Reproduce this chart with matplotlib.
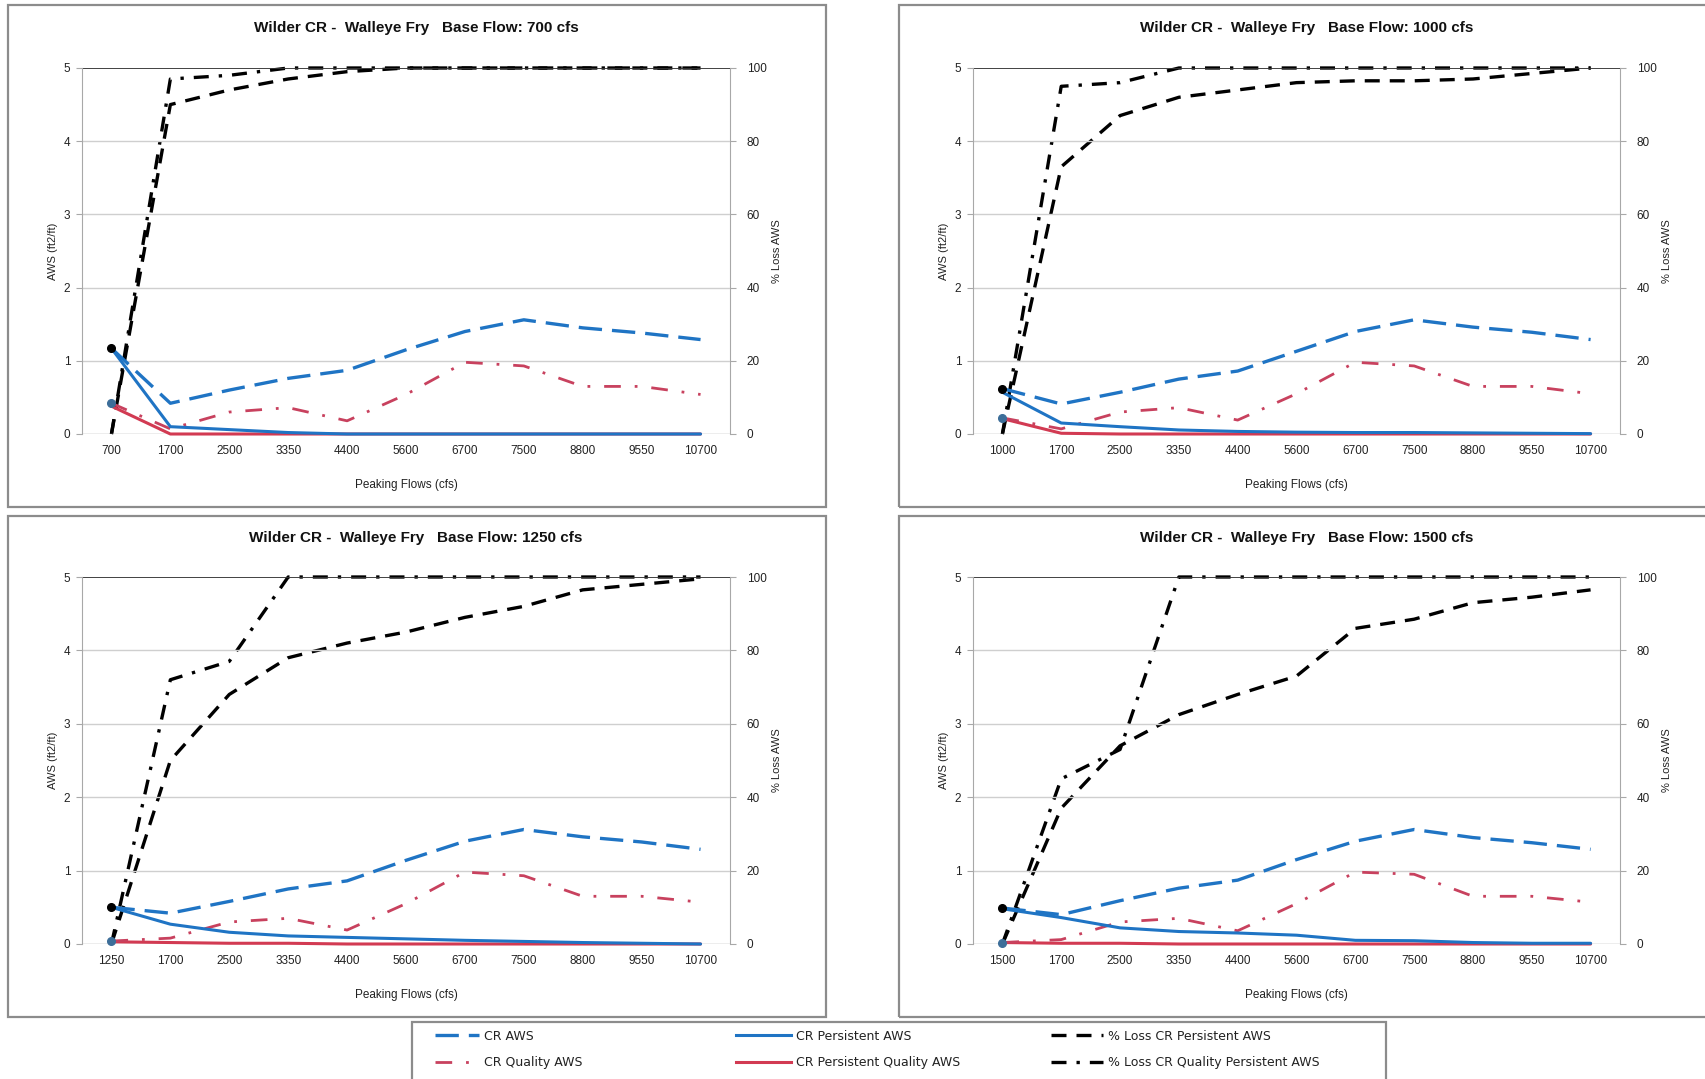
import matplotlib
matplotlib.use("Agg")
import matplotlib.pyplot as plt
from matplotlib.patches import Rectangle
from matplotlib.lines import Line2D

plt.rcParams['font.family'] = ['Liberation Sans Narrow', 'Liberation Sans', 'DejaVu Sans']

# ---------------- data ----------------
base_flows = [700, 1000, 1250, 1500]
peak_flows = ["1700", "2500", "3350", "4400", "5600", "6700", "7500", "8800", "9550", "10700"]

cr_aws_700 = [1.17, 0.42, 0.60, 0.76, 0.87, 1.15, 1.40, 1.56, 1.45, 1.38, 1.29]
cr_aws_1000 = [0.62, 0.41, 0.57, 0.75, 0.86, 1.13, 1.40, 1.56, 1.46, 1.39, 1.29]
cr_aws_1250 = [0.50, 0.42, 0.58, 0.75, 0.86, 1.14, 1.40, 1.56, 1.46, 1.39, 1.29]
cr_aws_1500 = [0.49, 0.40, 0.59, 0.76, 0.87, 1.15, 1.40, 1.56, 1.45, 1.38, 1.29]

cr_quality_700 = [0.42, 0.07, 0.30, 0.36, 0.18, 0.54, 0.98, 0.93, 0.65, 0.65, 0.54]
cr_quality_1000 = [0.22, 0.07, 0.30, 0.36, 0.19, 0.55, 0.98, 0.93, 0.65, 0.65, 0.55]
cr_quality_1250 = [0.04, 0.08, 0.30, 0.35, 0.19, 0.55, 0.98, 0.93, 0.65, 0.65, 0.57]
cr_quality_1500 = [0.02, 0.06, 0.30, 0.35, 0.18, 0.55, 0.98, 0.95, 0.65, 0.65, 0.57]

cr_persist_700 = [1.17, 0.10, 0.06, 0.02, 0.00, 0.00, 0.00, 0.00, 0.00, 0.00, 0.00]
cr_persist_1000 = [0.57, 0.15, 0.10, 0.055, 0.035, 0.025, 0.02, 0.02, 0.015, 0.01, 0.005]
cr_persist_1250 = [0.50, 0.27, 0.16, 0.11, 0.09, 0.07, 0.05, 0.035, 0.02, 0.01, 0.00]
cr_persist_1500 = [0.48, 0.36, 0.22, 0.17, 0.15, 0.12, 0.05, 0.045, 0.02, 0.01, 0.01]

cr_persist_q_700 = [0.38, 0.00, 0.00, 0.00, 0.00, 0.00, 0.00, 0.00, 0.00, 0.00, 0.00]
cr_persist_q_1000 = [0.21, 0.01, 0.00, 0.00, 0.00, 0.00, 0.00, 0.00, 0.00, 0.00, 0.00]
cr_persist_q_1250 = [0.03, 0.02, 0.01, 0.01, 0.00, 0.00, 0.00, 0.00, 0.00, 0.00, 0.00]
cr_persist_q_1500 = [0.02, 0.01, 0.01, 0.00, 0.00, 0.00, 0.00, 0.00, 0.00, 0.00, 0.00]

loss_persist_700 = [0, 90, 94, 97, 99, 100, 100, 100, 100, 100, 100]
loss_persist_1000 = [0, 73, 87, 92, 94, 96, 96.5, 96.5, 97, 98.5, 100]
loss_persist_1250 = [0, 50, 68, 78, 82, 85, 89, 92, 96.5, 98, 99.5]
loss_persist_1500 = [0, 37, 54, 62.5, 68, 73, 86, 88.5, 93, 94.5, 96.5]

loss_quality_700 = [0, 97, 98, 100, 100, 100, 100, 100, 100, 100, 100]
loss_quality_1000 = [0, 95, 96, 100, 100, 100, 100, 100, 100, 100, 100]
loss_quality_1250 = [0, 72, 77, 100, 100, 100, 100, 100, 100, 100, 100]
loss_quality_1500 = [0, 45, 53, 100, 100, 100, 100, 100, 100, 100, 100]

cr_aws = [cr_aws_700, cr_aws_1000, cr_aws_1250, cr_aws_1500]
cr_quality = [cr_quality_700, cr_quality_1000, cr_quality_1250, cr_quality_1500]
cr_persist = [cr_persist_700, cr_persist_1000, cr_persist_1250, cr_persist_1500]
cr_persist_q = [cr_persist_q_700, cr_persist_q_1000, cr_persist_q_1250, cr_persist_q_1500]
loss_persist = [loss_persist_700, loss_persist_1000, loss_persist_1250, loss_persist_1500]
loss_quality = [loss_quality_700, loss_quality_1000, loss_quality_1250, loss_quality_1500]

left_ticks = [0, 1, 2, 3, 4, 5]
right_ticks = [0, 20, 40, 60, 80, 100]

# ---------------- style ----------------
W, H = 1705, 1079
BLUE = '#1f74c4'
RED = '#d23a52'
RED_DD = '#c8415e'
BLACK = '#000000'
TXT = '#222222'
TICKFONT = ['Liberation Sans', 'DejaVu Sans']

fig = plt.figure(figsize=(W / 100, H / 100), dpi=100)
fig.patch.set_facecolor('white')


def fx(px):
    return px / W


def fy(py):
    return 1 - py / H


# panel frames (px: x0, y0, x1, y1), plot areas, title y
panels = [
    dict(frame=(8, 5, 826, 507), plot=(82, 68, 730, 434), ty=28),
    dict(frame=(899, 5, 1708, 507), plot=(973, 68, 1620, 434), ty=28),
    dict(frame=(8, 516, 826, 1017), plot=(82, 577, 730, 944), ty=538),
    dict(frame=(899, 516, 1708, 1017), plot=(973, 577, 1620, 944), ty=538),
]

for i, p in enumerate(panels):
    x0, y0, x1, y1 = p['frame']
    fig.patches.append(Rectangle((fx(x0), fy(y1)), fx(x1 - x0), (y1 - y0) / H,
                                 transform=fig.transFigure, fill=False,
                                 edgecolor='#8c8c8c', lw=1.6, zorder=0))
    px0, py0, px1, py1 = p['plot']
    ax = fig.add_axes([fx(px0), fy(py1), fx(px1 - px0), (py1 - py0) / H])
    ax2 = ax.twinx()
    n = len(peak_flows) + 1
    xs = list(range(n))
    labels = [str(base_flows[i])] + peak_flows

    ax.set_xlim(-0.5, n - 0.5)
    ax.set_ylim(0, 5)
    ax2.set_ylim(0, 100)

    # gridlines
    for t in left_ticks[1:-1]:
        ax.axhline(t, color='#cfcfcf', lw=1.0, zorder=0)
    ax.axhline(5, color='#333333', lw=1.3, zorder=0)

    for sp in ['top', 'bottom']:
        ax.spines[sp].set_visible(False)
        ax2.spines[sp].set_visible(False)
    ax.spines['left'].set_color('#a8a8a8')
    ax.spines['right'].set_visible(False)
    ax2.spines['left'].set_visible(False)
    ax2.spines['right'].set_color('#a8a8a8')
    ax.axhline(0, color='#a8a8a8', lw=1.0, zorder=0)

    ax.set_xticks(xs)
    ax.set_xticklabels(labels, fontsize=8.5, color=TXT, family=TICKFONT)
    ax.tick_params(axis='x', length=0, pad=8)
    ax.set_yticks(left_ticks)
    ax.set_yticklabels([str(t) for t in left_ticks], fontsize=8.5, color=TXT,
                       family=TICKFONT)
    ax.tick_params(axis='y', length=4, color='#a8a8a8', pad=4.5)
    ax2.set_yticks(right_ticks)
    ax2.set_yticklabels([str(t) for t in right_ticks], fontsize=8.5, color=TXT,
                        family=TICKFONT)
    ax2.tick_params(axis='y', length=4, color='#a8a8a8', pad=8)

    ax.set_ylabel('AWS (ft2/ft)', fontsize=8, color=TXT, labelpad=4,
                  family=TICKFONT)
    ax2.set_ylabel('% Loss AWS', fontsize=8, color=TXT, labelpad=4,
                   family=TICKFONT)
    ax.set_xlabel('Peaking Flows (cfs)', fontsize=8.5, color=TXT, labelpad=15.5)

    # series
    ax.plot(xs, cr_persist_q[i], color=RED, lw=2.2, solid_capstyle='round',
            clip_on=False, zorder=3)
    ax.plot(xs, cr_persist[i], color=BLUE, lw=2.2, solid_capstyle='round',
            clip_on=False, zorder=4)
    ax.plot(xs, cr_quality[i], color=RED_DD, lw=2.0, dashes=(6, 5, 1, 5),
            clip_on=False, zorder=3)
    ax.plot(xs, cr_aws[i], color=BLUE, lw=2.4, dashes=(7, 3),
            clip_on=False, zorder=4)
    ax.plot(xs[:1], cr_aws[i][:1], 'o', color=BLACK, ms=5.5, clip_on=False, zorder=6)
    ax.plot(xs[:1], cr_quality[i][:1], 'o', color='#3d6e99', ms=5.5, clip_on=False, zorder=6)

    ax2.plot(xs, loss_persist[i], color=BLACK, lw=2.4, dashes=(4.5, 3),
             clip_on=False, zorder=5)
    ax2.plot(xs, loss_quality[i], color=BLACK, lw=2.4, dashes=(4.5, 3, 1, 3),
             clip_on=False, zorder=5)
    ax.set_zorder(ax2.get_zorder() + 1)
    ax.patch.set_visible(False)

    fig.text(fx((px0 + px1) / 2 + 10), fy(p['ty']),
             'Wilder CR -  Walleye Fry   Base Flow: %d cfs' % base_flows[i],
             ha='center', va='center', fontsize=11, fontweight='bold', color='#111111')

# legend box
fig.patches.append(Rectangle((fx(412), fy(1085)), fx(1386 - 412), (1085 - 1022) / H,
                             transform=fig.transFigure, fill=False,
                             edgecolor='#8c8c8c', lw=1.6, zorder=0))

handles = [
    (Line2D([], [], color=BLUE, lw=2.4, dashes=(7, 3)), 'CR AWS'),
    (Line2D([], [], color=RED_DD, lw=2.0, dashes=(6, 5, 1, 5)), 'CR Quality AWS'),
    (Line2D([], [], color=BLUE, lw=2.2), 'CR Persistent AWS'),
    (Line2D([], [], color=RED, lw=2.2), 'CR Persistent Quality AWS'),
    (Line2D([], [], color=BLACK, lw=2.4, dashes=(4.5, 3)), '% Loss CR Persistent AWS'),
    (Line2D([], [], color=BLACK, lw=2.4, dashes=(4.5, 3, 1, 3)), '% Loss CR Quality Persistent AWS'),
]
col_x = [431, 732, 1047]
col_hl = [3.5, 4.4, 4.2]
for c in range(3):
    hs = [handles[2 * c][0], handles[2 * c + 1][0]]
    ls = [handles[2 * c][1], handles[2 * c + 1][1]]
    lg = fig.legend(hs, ls, loc='upper left', bbox_to_anchor=(fx(col_x[c]), fy(1026)),
                    frameon=False, handlelength=col_hl[c], handletextpad=0.4,
                    labelspacing=1.05, borderaxespad=0, borderpad=0.3,
                    prop={'family': ['DejaVu Sans'], 'size': 9})
    for t in lg.get_texts():
        t.set_color(TXT)

fig.savefig('out.png', dpi=100, facecolor='white')
